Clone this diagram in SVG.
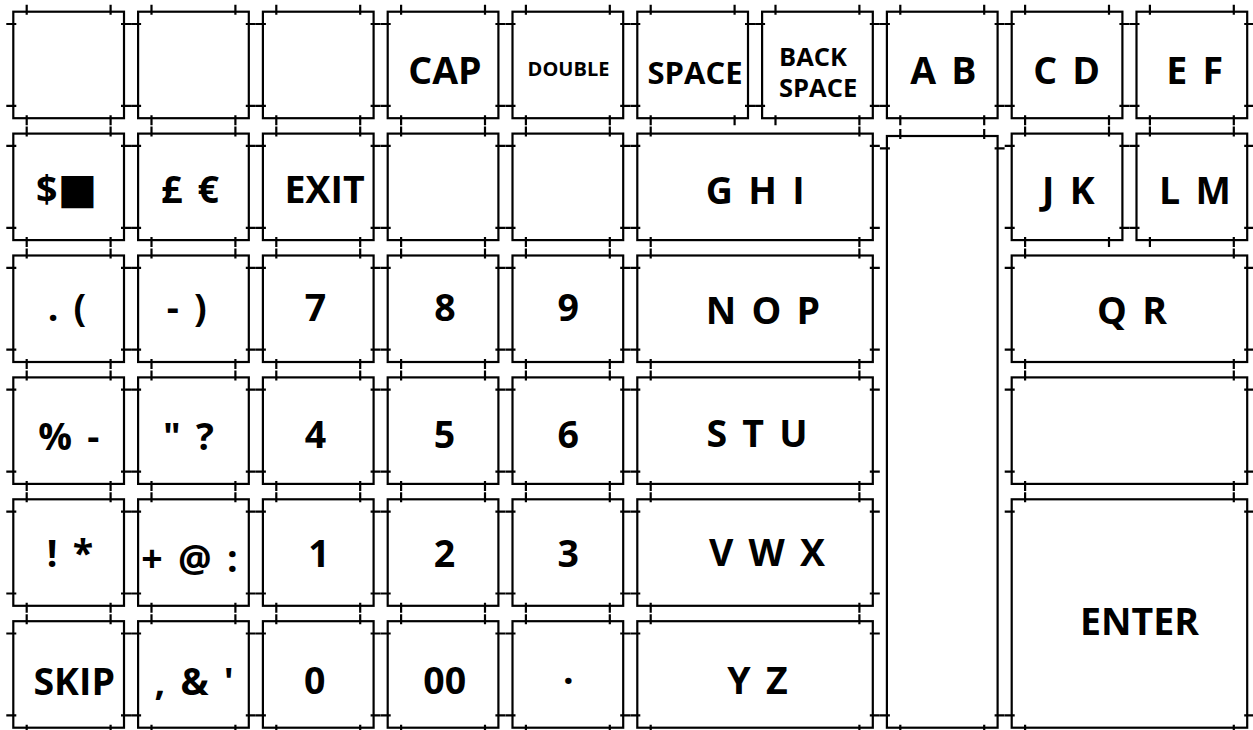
<svg xmlns="http://www.w3.org/2000/svg" xmlns:xlink="http://www.w3.org/1999/xlink" width="1253" height="730" viewBox="0 0 1253 730">
<style>
.k{fill:#fff;stroke:#000;stroke-width:2.2}
.t{fill:none;stroke:#000;stroke-width:2.2}
.l{font-family:"Open Sans","Noto Sans",sans-serif;font-weight:700;font-size:37.5px;fill:#000;text-anchor:middle;word-spacing:5.5px}
</style>
<defs>
<g id="key">
<rect class="k" x="0" y="0" width="110.7" height="106.5"/>
<path class="t" d="M13.4,-7V3M97.3,-7V3M13.4,103.5V113.5M97.3,103.5V113.5M-7,12.3H3M-7,94.2H3M107.7,12.3H117.7M107.7,94.2H117.7"/>
</g>
<g id="wide">
<rect class="k" x="0" y="0" width="235.5" height="106.5"/>
<path class="t" d="M13.4,-7V3M222.1,-7V3M13.4,103.5V113.5M222.1,103.5V113.5M-7,12.3H3M-7,94.2H3M232.5,12.3H242.5M232.5,94.2H242.5"/>
</g>
</defs>
<rect x="0" y="0" width="1253" height="730" fill="#fff"/>
<g id="connectors"/>
<!-- Row 0 -->
<g id="k-r0c0"><use xlink:href="#key" x="13.3" y="11.7"/></g>
<g id="k-r0c1"><use xlink:href="#key" x="138.1" y="11.7"/></g>
<g id="k-r0c2"><use xlink:href="#key" x="262.9" y="11.7"/></g>
<g id="k-cap"><use xlink:href="#key" x="387.7" y="11.7"/><text class="l" x="445" y="84">CAP</text></g>
<g id="k-double"><use xlink:href="#key" x="512.5" y="11.7"/><text class="l" x="568.5" y="75.7" style="font-size:20px">DOUBLE</text></g>
<g id="k-space"><use xlink:href="#key" x="637.3" y="11.7"/><text class="l" x="695" y="84" style="font-size:31px">SPACE</text></g>
<g id="k-backspace"><use xlink:href="#key" x="762.1" y="11.7"/><text class="l" style="font-size:25.5px;text-anchor:start"><tspan x="779" y="65.7">BACK</tspan><tspan x="779" y="97.3">SPACE</tspan></text></g>
<g id="k-ab"><use xlink:href="#key" x="886.9" y="11.7"/><text class="l" x="943.3" y="84">A B</text></g>
<g id="k-cd"><use xlink:href="#key" x="1011.7" y="11.7"/><text class="l" x="1066.7" y="83.5">C D</text></g>
<g id="k-ef"><use xlink:href="#key" x="1136.5" y="11.7"/><text class="l" x="1194.7" y="84">E F</text></g>
<!-- Row 1 -->
<g id="k-dollar"><use xlink:href="#key" x="13.3" y="133.6"/><text class="l" x="36" y="203.3" style="text-anchor:start">$<tspan style="font-family:'DejaVu Sans',sans-serif;font-size:42px">■</tspan></text></g>
<g id="k-pound"><use xlink:href="#key" x="138.1" y="133.6"/><text class="l" x="190" y="203.3">£ €</text></g>
<g id="k-exit"><use xlink:href="#key" x="262.9" y="133.6"/><text class="l" x="324.7" y="203.3">EXIT</text></g>
<g id="k-r1c3"><use xlink:href="#key" x="387.7" y="133.6"/></g>
<g id="k-r1c4"><use xlink:href="#key" x="512.5" y="133.6"/></g>
<g id="k-ghi"><use xlink:href="#wide" x="637.3" y="133.6"/><text class="l" x="755.2" y="204.3">G H I</text></g>
<g id="k-tall">
<rect class="k" x="886.9" y="136" width="110.7" height="591.7"/>
<path class="t" d="M900.3,129V139M984.2,129V139M900.3,724.7V734.7M984.2,724.7V734.7M879.9,148.3H889.9M879.9,715.4H889.9M994.6,148.3H1004.6M994.6,715.4H1004.6"/>
</g>
<g id="k-jk"><use xlink:href="#key" x="1011.7" y="133.6"/><text class="l" x="1068.3" y="204">J K</text></g>
<g id="k-lm"><use xlink:href="#key" x="1136.5" y="133.6"/><text class="l" x="1195" y="204">L M</text></g>
<!-- Row 2 -->
<g id="k-dotparen"><use xlink:href="#key" x="13.3" y="255.5"/><text class="l" x="67" y="321">. (</text></g>
<g id="k-dashparen"><use xlink:href="#key" x="138.1" y="255.5"/><text class="l" x="186.7" y="321">- )</text></g>
<g id="k-7"><use xlink:href="#key" x="262.9" y="255.5"/><text class="l" x="315.5" y="321">7</text></g>
<g id="k-8"><use xlink:href="#key" x="387.7" y="255.5"/><text class="l" x="445" y="321">8</text></g>
<g id="k-9"><use xlink:href="#key" x="512.5" y="255.5"/><text class="l" x="568.3" y="321">9</text></g>
<g id="k-nop"><use xlink:href="#wide" x="637.3" y="255.5"/><text class="l" x="762.9" y="324">N O P</text></g>
<g id="k-qr"><use xlink:href="#wide" x="1011.7" y="255.5"/><text class="l" x="1132" y="323.5">Q R</text></g>
<!-- Row 3 -->
<g id="k-percent"><use xlink:href="#key" x="13.3" y="377.4"/><text class="l" x="68.8" y="450">% -</text></g>
<g id="k-quote"><use xlink:href="#key" x="138.1" y="377.4"/><text class="l" x="188.5" y="450">" ?</text></g>
<g id="k-4"><use xlink:href="#key" x="262.9" y="377.4"/><text class="l" x="315.5" y="447.7">4</text></g>
<g id="k-5"><use xlink:href="#key" x="387.7" y="377.4"/><text class="l" x="444.5" y="447.7">5</text></g>
<g id="k-6"><use xlink:href="#key" x="512.5" y="377.4"/><text class="l" x="568.3" y="447.7">6</text></g>
<g id="k-stu"><use xlink:href="#wide" x="637.3" y="377.4"/><text class="l" x="757" y="447.3">S T U</text></g>
<g id="k-r3c8"><use xlink:href="#wide" x="1011.7" y="377.4"/></g>
<!-- Row 4 -->
<g id="k-excl"><use xlink:href="#key" x="13.3" y="499.3"/><text class="l" x="70" y="566.7">! *</text></g>
<g id="k-plus"><use xlink:href="#key" x="138.1" y="499.3"/><text class="l" x="189.5" y="572">+ @ :</text></g>
<g id="k-1"><use xlink:href="#key" x="262.9" y="499.3"/><text class="l" x="319" y="566.7">1</text></g>
<g id="k-2"><use xlink:href="#key" x="387.7" y="499.3"/><text class="l" x="444.5" y="566.7">2</text></g>
<g id="k-3"><use xlink:href="#key" x="512.5" y="499.3"/><text class="l" x="568.3" y="566.7">3</text></g>
<g id="k-vwx"><use xlink:href="#wide" x="637.3" y="499.3"/><text class="l" x="767" y="566">V W X</text></g>
<g id="k-enter">
<rect class="k" x="1011.7" y="499.3" width="235.5" height="228.4"/>
<path class="t" d="M1025.1,492.3V502.3M1233.8,492.3V502.3M1025.1,724.7V734.7M1233.8,724.7V734.7M1004.7,511.6H1014.7M1004.7,715.4H1014.7M1244.2,511.6H1254.2M1244.2,715.4H1254.2"/>
<text class="l" x="1139.5" y="635">ENTER</text>
</g>
<!-- Row 5 -->
<g id="k-skip"><use xlink:href="#key" x="13.3" y="621.2"/><text class="l" x="74.2" y="695">SKIP</text></g>
<g id="k-comma"><use xlink:href="#key" x="138.1" y="621.2"/><text class="l" x="194.2" y="695">, &amp; '</text></g>
<g id="k-0"><use xlink:href="#key" x="262.9" y="621.2"/><text class="l" x="314.7" y="694">0</text></g>
<g id="k-00"><use xlink:href="#key" x="387.7" y="621.2"/><text class="l" x="444.7" y="694">00</text></g>
<g id="k-middot"><use xlink:href="#key" x="512.5" y="621.2"/><text class="l" x="568.3" y="694">·</text></g>
<g id="k-yz"><use xlink:href="#wide" x="637.3" y="621.2"/><text class="l" x="757.5" y="694">Y Z</text></g>
</svg>
